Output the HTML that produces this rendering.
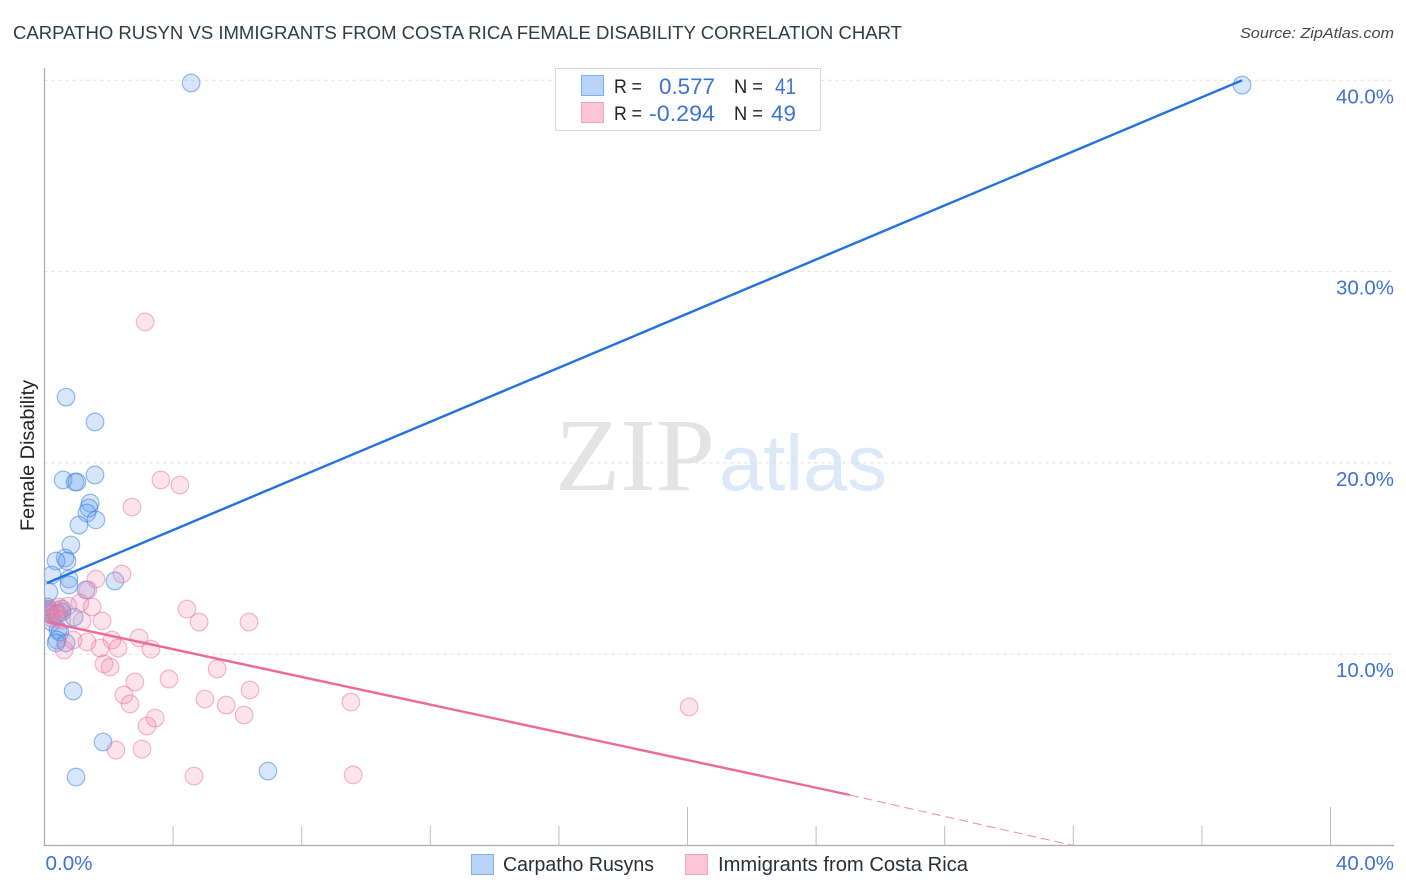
<!DOCTYPE html>
<html lang="en">
<head>
<meta charset="utf-8">
<title>Carpatho Rusyn vs Immigrants from Costa Rica Female Disability Correlation Chart</title>
<style>
html,body{margin:0;padding:0;background:#fff;width:1406px;height:892px;overflow:hidden}
svg{display:block}
text{font-family:"Liberation Sans",sans-serif}
</style>
</head>
<body>
<svg id="chart" xmlns="http://www.w3.org/2000/svg" width="1406" height="892" viewBox="0 0 1406 892">
  <defs>
    <clipPath id="plot-clip"><rect x="45" y="60" width="1361" height="786"/></clipPath>
  </defs>
  <text x="13" y="39" font-size="18.6" fill="#333a42" textLength="889" lengthAdjust="spacingAndGlyphs">CARPATHO RUSYN VS IMMIGRANTS FROM COSTA RICA FEMALE DISABILITY CORRELATION CHART</text>
  <text x="1394" y="38" font-size="15" font-style="italic" fill="#444" text-anchor="end" textLength="154" lengthAdjust="spacingAndGlyphs">Source: ZipAtlas.com</text>
  <g>
    <text x="555" y="490" font-size="104" fill="#e4e4e4" style="font-family:'Liberation Serif',serif" textLength="160" lengthAdjust="spacingAndGlyphs">ZIP</text>
    <text x="719" y="490" font-size="79" fill="#dde8f8" textLength="168" lengthAdjust="spacingAndGlyphs">atlas</text>
  </g>
  <g id="grid"></g>
  <g id="axes"></g>
  <g clip-path="url(#plot-clip)">
    <g id="points-blue"></g>
    <g id="points-pink"></g>
  </g>
  <g id="trends"></g>
  <text transform="translate(34,531) rotate(-90)" font-size="19" fill="#222" textLength="151" lengthAdjust="spacingAndGlyphs">Female Disability</text>
  <g>
    <rect x="555.5" y="68.5" width="265" height="62" fill="#fff" stroke="#d8d8d8" stroke-width="1"/>
    <rect x="581.5" y="75.5" width="22" height="20" fill="#b8d3f7" stroke="#80aee8" stroke-width="1"/>
    <rect x="581.5" y="102.5" width="22" height="20" fill="#fcc6d8" stroke="#efa3bd" stroke-width="1"/>
    <text x="614" y="93" font-size="19" fill="#222" textLength="28" lengthAdjust="spacingAndGlyphs">R =</text>
    <text x="659" y="94" font-size="22" fill="#3b74d4" textLength="56" lengthAdjust="spacingAndGlyphs">0.577</text>
    <text x="734" y="93" font-size="19" fill="#222" textLength="29" lengthAdjust="spacingAndGlyphs">N =</text>
    <text x="775" y="94" font-size="22" fill="#3b74d4" textLength="21" lengthAdjust="spacingAndGlyphs">41</text>
    <text x="614" y="120" font-size="19" fill="#222" textLength="28" lengthAdjust="spacingAndGlyphs">R =</text>
    <text x="649" y="121" font-size="22" fill="#3b74d4" textLength="66" lengthAdjust="spacingAndGlyphs">-0.294</text>
    <text x="734" y="120" font-size="19" fill="#222" textLength="29" lengthAdjust="spacingAndGlyphs">N =</text>
    <text x="771" y="121" font-size="22" fill="#3b74d4" textLength="25" lengthAdjust="spacingAndGlyphs">49</text>
  </g>
  <g>
    <rect x="471.5" y="854.5" width="22" height="20" fill="#b8d3f7" stroke="#80aee8" stroke-width="1"/>
    <text x="503" y="871" font-size="20" fill="#2a2f36" textLength="151" lengthAdjust="spacingAndGlyphs">Carpatho Rusyns</text>
    <rect x="685.5" y="854.5" width="22" height="20" fill="#fcc6d8" stroke="#efa3bd" stroke-width="1"/>
    <text x="718" y="871" font-size="20" fill="#2a2f36" textLength="250" lengthAdjust="spacingAndGlyphs">Immigrants from Costa Rica</text>
  </g>
</svg>
<script>
const yTickValues = [10, 20, 30, 40];
const yTickLabels = ["10.0%", "20.0%", "30.0%", "40.0%"];
const xTickValues = [4, 8, 12, 16, 20, 24, 28, 32, 36, 40];
const xTickLabels = ["0.0%", "40.0%"];
const xTickLabelValues = [0, 40];
const majorXTicks = [20, 40];

const blueX = [4.56,37.25,0.67,1.57,1.57,0.58,0.95,1.01,1.42,1.38,1.32,1.60,1.07,0.82,0.64,0.36,0.70,0.23,0.76,0.76,2.19,1.29,0.14,0.08,0.54,0.92,0.11,0.23,0.42,0.48,0.39,0.36,0.67,0.89,1.82,0.98,6.95,0.05,0.17,0.36,0.54];
const blueY = [39.86,39.75,23.44,22.14,19.37,19.11,19.0,19.0,17.9,17.64,17.38,17.02,16.75,15.71,15.03,14.87,14.87,14.14,13.93,13.62,13.83,13.36,13.25,12.47,12.36,11.94,12.31,11.68,11.27,11.16,10.74,10.59,10.59,8.08,5.41,3.58,3.89,12.21,12.10,12.10,12.21];

const pinkX = [3.13,3.62,4.21,2.72,2.41,1.60,1.35,1.10,1.48,0.45,0.73,4.43,1.79,1.17,4.81,6.36,2.94,2.10,1.32,0.89,0.61,1.73,2.29,3.31,1.85,2.04,5.37,2.81,3.87,6.39,2.47,2.66,4.99,5.65,9.53,20.05,6.21,3.44,3.19,2.22,3.03,4.65,9.60,0.11,0.17,0.33,0.23,0.42,0.54];
const pinkY = [27.37,19.11,18.84,17.69,14.19,13.93,13.36,12.68,12.47,12.47,12.52,12.36,11.74,11.74,11.68,11.68,10.85,10.74,10.64,10.74,10.22,10.32,10.32,10.27,9.49,9.33,9.23,8.55,8.70,8.13,7.87,7.40,7.66,7.34,7.50,7.24,6.82,6.66,6.25,4.99,5.04,3.63,3.69,12.31,12.21,12.31,11.89,12.10,11.79];

const blueTrendX = [0.08, 37.25];
const blueTrendY = [13.72, 40.0];
const pinkTrendX = [0.08, 25.05];
const pinkTrendY = [11.68, 2.64];
const pinkDashX = [25.05, 32.0];
const pinkDashY = [2.64, 0];

const NS = 'http://www.w3.org/2000/svg';
const xPos = v => 44.5 + v * 32.15;
const yPos = v => 845.5 - v * 19.13;

function mk(parentId, tag, props, content) {
  const el = document.createElementNS(NS, tag);
  for (const k in props) el.setAttribute(k, props[k]);
  if (content !== undefined) el.textContent = content;
  document.getElementById(parentId).appendChild(el);
  return el;
}

yTickValues.forEach((v, i) => {
  const line = mk('grid', 'line', {x1: 44.5, x2: 1394, y1: yPos(v), y2: yPos(v), stroke: '#dedede', 'stroke-width': 1, 'stroke-dasharray': '3 4'});
  
  
  const label = mk('axes', 'text', {x: 1394, y: yPos(v) + 23, 'font-size': 20, fill: '#3f72d2', 'text-anchor': 'end', textLength: 58, lengthAdjust: 'spacingAndGlyphs'}, yTickLabels[i]);
  
  
});

const yAxis = mk('axes', 'line', {x1: 44.5, x2: 44.5, y1: 68, y2: 846, stroke: '#aaaaaa', 'stroke-width': 1.2});


const xAxis = mk('axes', 'line', {x1: 44, x2: 1394, y1: 845.5, y2: 845.5, stroke: '#aaaaaa', 'stroke-width': 1.2});



xTickValues.forEach(v => {
  const top = majorXTicks.includes(v) ? 807 : 826;
  const tick = mk('axes', 'line', {x1: xPos(v), x2: xPos(v), y1: top, y2: 845.5, stroke: '#bdbdbd', 'stroke-width': 1});
  
  
});

xTickLabelValues.forEach((v, i) => {
  const isFirst = i === 0;
  const label = mk('axes', 'text', {x: isFirst ? xPos(v) + 1 : 1394, y: 870, 'font-size': 20, fill: '#3f72d2', 'text-anchor': isFirst ? 'start' : 'end', textLength: isFirst ? 47 : 58, lengthAdjust: 'spacingAndGlyphs'}, xTickLabels[i]);
  
  
});

blueX.forEach((v, i) => {
  const c = mk('points-blue', 'circle', {cx: xPos(v), cy: yPos(blueY[i]), r: 8.8, fill: 'rgba(100,160,235,0.26)', stroke: 'rgba(50,120,220,0.5)', 'stroke-width': 1.2});
  
  
});

pinkX.forEach((v, i) => {
  const c = mk('points-pink', 'circle', {cx: xPos(v), cy: yPos(pinkY[i]), r: 8.8, fill: 'rgba(240,135,175,0.23)', stroke: 'rgba(230,110,155,0.48)', 'stroke-width': 1.2});
  
  
});

const blueLine = mk('trends', 'line', {x1: xPos(blueTrendX[0]), y1: yPos(blueTrendY[0]), x2: xPos(blueTrendX[1]), y2: yPos(blueTrendY[1]), stroke: '#2371dc', 'stroke-width': 2.4});


const pinkLine = mk('trends', 'line', {x1: xPos(pinkTrendX[0]), y1: yPos(pinkTrendY[0]), x2: xPos(pinkTrendX[1]), y2: yPos(pinkTrendY[1]), stroke: '#ec6a98', 'stroke-width': 2.4});


const pinkDash = mk('trends', 'line', {x1: xPos(pinkDashX[0]), y1: yPos(pinkDashY[0]), x2: xPos(pinkDashX[1]), y2: yPos(pinkDashY[1]), stroke: '#ec8aae', 'stroke-width': 1, 'stroke-dasharray': '9 5'});


</script>
</body>
</html>
